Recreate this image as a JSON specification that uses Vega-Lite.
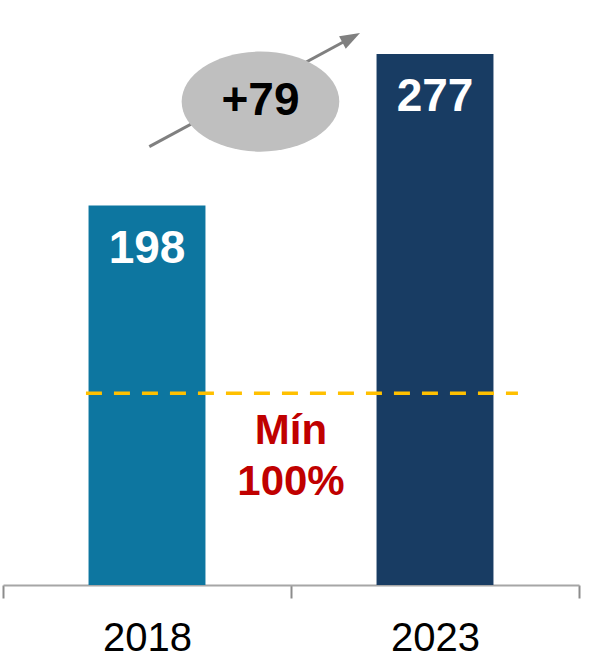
{
  "$schema": "https://vega.github.io/schema/vega-lite/v6.json",
  "width": 576,
  "height": 575,
  "autosize": "none",
  "padding": {"left": 3, "top": 10, "right": 10, "bottom": 79},
  "config": {"view": {"stroke": null}, "font": "Liberation Sans"},
  "datasets": {
    "bars": [{"year": "2018", "value": 198}, {"year": "2023", "value": 277}],
    "arrow": [{"x": 0.508, "y": 228.7, "x2": 1.209, "y2": 285.5}],
    "arrowhead": [{"x": 1.2396, "y": 288}],
    "bubble": [{"x": 0.894, "y": 252.2, "ty": 245.2, "label": "+79"}],
    "minline": [{"x": 0.288, "x2": 1.788, "y": 100}],
    "minlabel": [{"x": 1.0, "y": 73.6, "label": ["Mín", "100%"]}]
  },
  "resolve": {"scale": {"x": "independent"}},
  "layer": [
    {
      "data": {"name": "bars"},
      "mark": {"type": "bar", "width": {"band": 0.406}},
      "encoding": {
        "x": {
          "field": "year", "type": "nominal",
          "scale": {"type": "band", "paddingInner": 0, "paddingOuter": 0},
          "axis": {
            "title": null, "labelAngle": 0, "labelFontSize": 40, "labelColor": "black",
            "labelFont": "Liberation Sans", "labelBaseline": "alphabetic", "labelPadding": 52,
            "tickSize": 13, "tickWidth": 2, "tickColor": "#8C8C8C",
            "domainColor": "#A6A6A6", "domainWidth": 2,
            "tickBand": "extent", "ticks": true
          }
        },
        "y": {"field": "value", "type": "quantitative", "scale": {"domain": [0, 300], "nice": false}, "axis": null},
        "color": {"field": "year", "type": "nominal", "scale": {"range": ["#0D76A0", "#183C63"]}, "legend": null}
      }
    },
    {
      "data": {"name": "bars"},
      "mark": {"type": "text", "dy": 57, "baseline": "alphabetic", "fontSize": 46, "fontWeight": "bold", "color": "white", "font": "Liberation Sans"},
      "encoding": {
        "x": {"field": "year", "type": "nominal", "scale": {"type": "band", "paddingInner": 0, "paddingOuter": 0}, "axis": null},
        "y": {"field": "value", "type": "quantitative", "scale": {"domain": [0, 300], "nice": false}, "axis": null},
        "text": {"field": "value"}
      }
    },
    {
      "data": {"name": "minline"},
      "mark": {"type": "rule", "color": "#FFC000", "strokeWidth": 3.5, "strokeDash": [16, 12]},
      "encoding": {
        "x": {"field": "x", "type": "quantitative", "scale": {"domain": [0, 2], "nice": false, "zero": false}, "axis": null},
        "x2": {"field": "x2"},
        "y": {"field": "y", "type": "quantitative", "scale": {"domain": [0, 300], "nice": false}, "axis": null}
      }
    },
    {
      "data": {"name": "minlabel"},
      "mark": {"type": "text", "baseline": "alphabetic", "fontSize": 42, "fontWeight": "bold", "color": "#C00000", "lineHeight": 51, "font": "Liberation Sans"},
      "encoding": {
        "x": {"field": "x", "type": "quantitative", "scale": {"domain": [0, 2], "nice": false, "zero": false}, "axis": null},
        "y": {"field": "y", "type": "quantitative", "scale": {"domain": [0, 300], "nice": false}, "axis": null},
        "text": {"field": "label"}
      }
    },
    {
      "data": {"name": "arrow"},
      "mark": {"type": "rule", "color": "#808080", "strokeWidth": 3},
      "encoding": {
        "x": {"field": "x", "type": "quantitative", "scale": {"domain": [0, 2], "nice": false, "zero": false}, "axis": null},
        "x2": {"field": "x2"},
        "y": {"field": "y", "type": "quantitative", "scale": {"domain": [0, 300], "nice": false}, "axis": null},
        "y2": {"field": "y2"}
      }
    },
    {
      "data": {"name": "arrowhead"},
      "mark": {"type": "point", "shape": "M 0 0 L -2 -0.7 L -2 0.7 Z", "filled": true, "color": "#808080", "opacity": 1, "size": 400, "angle": 331.6},
      "encoding": {
        "x": {"field": "x", "type": "quantitative", "scale": {"domain": [0, 2], "nice": false, "zero": false}, "axis": null},
        "y": {"field": "y", "type": "quantitative", "scale": {"domain": [0, 300], "nice": false}, "axis": null}
      }
    },
    {
      "data": {"name": "bubble"},
      "mark": {"type": "point", "shape": "M -1 0 C -1 -0.351 -0.552 -0.635 0 -0.635 C 0.552 -0.635 1 -0.351 1 0 C 1 0.351 0.552 0.635 0 0.635 C -0.552 0.635 -1 0.351 -1 0 Z", "filled": true, "color": "#BFBFBF", "opacity": 1, "size": 24840},
      "encoding": {
        "x": {"field": "x", "type": "quantitative", "scale": {"domain": [0, 2], "nice": false, "zero": false}, "axis": null},
        "y": {"field": "y", "type": "quantitative", "scale": {"domain": [0, 300], "nice": false}, "axis": null}
      }
    },
    {
      "data": {"name": "bubble"},
      "mark": {"type": "text", "baseline": "alphabetic", "fontSize": 46, "fontWeight": "bold", "color": "black", "font": "Liberation Sans"},
      "encoding": {
        "x": {"field": "x", "type": "quantitative", "scale": {"domain": [0, 2], "nice": false, "zero": false}, "axis": null},
        "y": {"field": "ty", "type": "quantitative", "scale": {"domain": [0, 300], "nice": false}, "axis": null},
        "text": {"field": "label"}
      }
    }
  ]
}
